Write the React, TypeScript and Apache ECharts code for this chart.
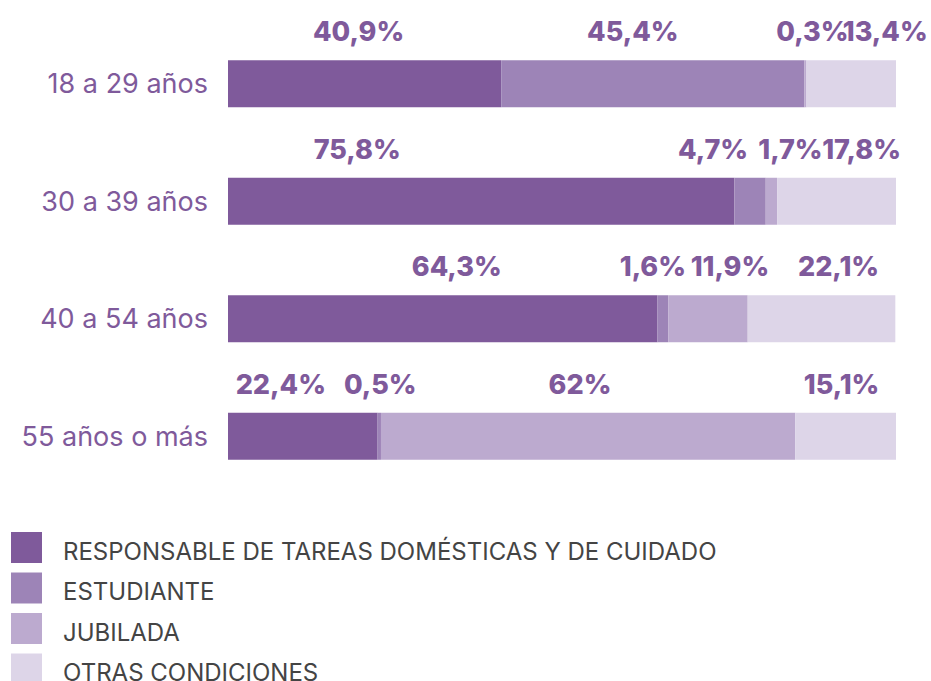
import React, { useEffect, useRef } from "react";
import * as echarts from "echarts";

const categories = ["18 a 29 años", "30 a 39 años", "40 a 54 años", "55 años o más"];
const seriesNames = [
  "RESPONSABLE DE TAREAS DOMÉSTICAS Y DE CUIDADO",
  "ESTUDIANTE",
  "JUBILADA",
  "OTRAS CONDICIONES",
];
const responsable = [40.9, 75.8, 64.3, 22.4];
const estudiante = [45.4, 4.7, 1.6, 0.5];
const jubilada = [0.3, 1.7, 11.9, 62];
const otras = [13.4, 17.8, 22.1, 15.1];

const colors = ["#7f5a9b", "#9d84b7", "#bcaacf", "#ddd5e8"];
// horizontal nudges of the value labels (px), per series, per category
const labelDx = [
  [-6, -124, 14, -22],
  [-20, -37, -10, 1],
  [7, 19, 22, -8],
  [34, 25, 17, -4],
];

const fmt = (v: number) => String(v).replace(".", ",") + "%";

export default function App() {
  const ref = useRef<HTMLDivElement>(null);
  useEffect(() => {
    if (!ref.current) return;
    const chart = echarts.init(ref.current, undefined, { renderer: "svg" });
    const values = [responsable, estudiante, jubilada, otras];
    chart.setOption({
      animation: false,
      color: colors,
      grid: { left: 228, right: 35, top: 25, bottom: 225, containLabel: false },
      xAxis: { type: "value", min: 0, max: 100, show: false },
      yAxis: {
        type: "category",
        data: categories,
        inverse: true,
        axisLine: { show: false },
        axisTick: { show: false },
        axisLabel: {
          color: "#7f5a9b",
          fontSize: 27,
          fontFamily: "Inter",
          margin: 20,
        },
      },
      legend: {
        orient: "vertical",
        left: 6,
        top: 527,
        itemWidth: 31,
        itemHeight: 31,
        itemGap: 9.5,
        icon: "rect",
        selectedMode: false,
        formatter: (name: string) => `{t|${name}}`,
        textStyle: {
          color: "#444444",
          fontSize: 24,
          fontFamily: "Inter",
          padding: [0, 0, 0, 16],
          rich: {
            t: {
              color: "#444444",
              fontSize: 24,
              fontFamily: "Inter",
              padding: [7, 0, 0, 0],
            },
          },
        },
        data: seriesNames,
      },
      series: seriesNames.map((name, si) => ({
        name,
        type: "bar",
        stack: "total",
        barWidth: 47,
        itemStyle: { color: colors[si] },
        data: values[si].map((v, ci) => ({
          value: v,
          label: {
            show: true,
            position: "top",
            distance: 15,
            offset: [labelDx[si][ci], 0],
            formatter: () => fmt(v),
            color: "#7f5a9b",
            fontSize: 27,
            fontWeight: 800,
            fontFamily: "Inter",
          },
        })),
      })),
    });
    return () => chart.dispose();
  }, []);
  return (
    <div style={{ position: "absolute", left: 0, top: 0, width: 931, height: 681, overflow: "hidden" }}>
      <div ref={ref} style={{ width: 931, height: 720 }} />
    </div>
  );
}
